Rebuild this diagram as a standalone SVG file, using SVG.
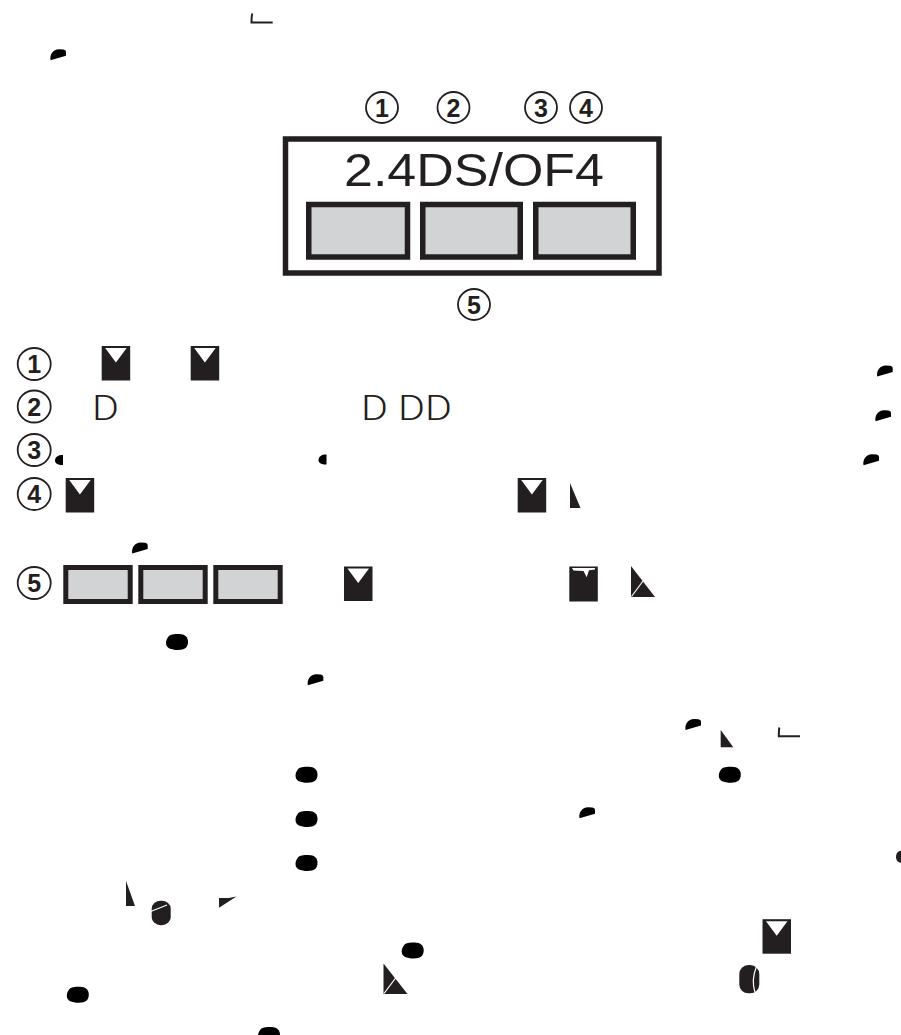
<svg xmlns="http://www.w3.org/2000/svg" width="901" height="1035" viewBox="0 0 901 1035">
<style>
.ink{fill:#231f20}
.circ{fill:none;stroke:#231f20;stroke-width:1.8}
.num{font-family:"Liberation Sans",Arial,sans-serif;font-weight:bold;font-size:25px;fill:#231f20;text-anchor:middle}
.key{fill:#d1d3d4;stroke:#231f20;stroke-width:5.5}
.keys{fill:#d1d3d4;stroke:#231f20;stroke-width:5}
.lbl{font-family:"Liberation Sans",Arial,sans-serif;font-size:46px;fill:#231f20}
.dd{font-family:Roboto,"Liberation Sans",sans-serif;font-weight:300;font-size:35px;fill:#231f20}
.slash{stroke:#fff;stroke-width:1.2;fill:none}
.hook{fill:none;stroke:#231f20;stroke-width:2}
</style>
<defs>
<path id="half" d="M0.5,11 C-0.5,5 3,0.5 9,0 L13.5,0.2 C15.3,0.6 16,1.5 16,3 L16,6.5 Z"/>
<path id="blob" d="M2.5,2.5 C4,0.5 8,0 13,0 C19,0 22,3 22,8 C22,13 19,16 12,16 C5,16 0,14 0,9 C0,6 1,4.5 2.5,2.5 Z"/>
<path id="dot" d="M8,0 C3,0 0,2 0,5.5 C0,8 2,10 8,10 Z"/>
<g id="mk"><rect x="0" y="0" width="28.5" height="34.5" fill="#231f20"/><polygon points="3.5,2 25,2 14.2,16.5" fill="#fff"/></g>
</defs>

<g id="connectors"></g>

<g id="panel">
<rect x="285.5" y="139" width="373.5" height="134" fill="#fff" stroke="#231f20" stroke-width="5.5"/>
<text class="lbl" x="344" y="186" textLength="260" lengthAdjust="spacingAndGlyphs">2.4DS/OF4</text>
<rect class="key" x="308.75" y="204.5" width="98.75" height="52.5"/>
<rect class="key" x="422.75" y="204.5" width="97.5" height="52.5"/>
<rect class="key" x="535.75" y="204.5" width="97.5" height="52.5"/>
</g>

<g id="callouts">
<g id="c1"><ellipse class="circ" cx="382" cy="107.5" rx="16" ry="15.5"/><text class="num" x="382" y="116.5">1</text></g>
<g id="c2"><ellipse class="circ" cx="453.5" cy="107.5" rx="16" ry="15.5"/><text class="num" x="453.5" y="116.5">2</text></g>
<g id="c3"><ellipse class="circ" cx="541" cy="107.5" rx="16" ry="15.5"/><text class="num" x="541" y="116.5">3</text></g>
<g id="c4"><ellipse class="circ" cx="586" cy="107.5" rx="16" ry="15.5"/><text class="num" x="586" y="116.5">4</text></g>
<g id="c5"><ellipse class="circ" cx="474" cy="304.5" rx="16" ry="15.5"/><text class="num" x="474" y="313.5">5</text></g>
</g>

<g id="legend">
<g id="row1"><ellipse class="circ" cx="34.2" cy="364" rx="16.5" ry="16"/><text class="num" x="34.2" y="373">1</text>
<use href="#mk" x="101.7" y="346"/><use href="#mk" x="190.7" y="346"/></g>
<g id="row2"><ellipse class="circ" cx="34.2" cy="406.5" rx="16.5" ry="16"/><text class="num" x="34.2" y="415.5">2</text>
<text class="dd" x="92" y="420" textLength="27" lengthAdjust="spacingAndGlyphs">D</text><text class="dd" x="361" y="420" textLength="91" lengthAdjust="spacingAndGlyphs">D DD</text></g>
<g id="row3"><ellipse class="circ" cx="34.2" cy="450" rx="16.5" ry="16"/><text class="num" x="34.2" y="459">3</text>
<use href="#dot" x="55" y="455"/><use href="#dot" x="318.5" y="454.5"/></g>
<g id="row4"><ellipse class="circ" cx="34.2" cy="494" rx="16.5" ry="16"/><text class="num" x="34.2" y="503">4</text>
<use href="#mk" x="65.7" y="478"/><use href="#mk" x="517.7" y="478"/>
<polygon class="ink" points="570,483 580.5,508 570,508"/></g>
<g id="row5"><ellipse class="circ" cx="34.2" cy="583" rx="16.5" ry="16"/><text class="num" x="34.2" y="592">5</text>
<rect class="keys" x="65.8" y="567.5" width="64.4" height="34"/>
<rect class="keys" x="140.8" y="567.5" width="64.4" height="34"/>
<rect class="keys" x="215.8" y="567.5" width="64.4" height="34"/>
<use href="#mk" x="344" y="566.5"/>
<rect x="569.3" y="566.5" width="28.5" height="35" fill="#231f20"/>
<polygon points="572,568 595,568 595,569.6 589,570.3 586.7,577.3 583.5,571 573.5,570.5" fill="#fff"/>
<polygon class="ink" points="631,566 655,597 631,597"/>
<line class="slash" x1="631.5" y1="596.5" x2="644.5" y2="579"/></g>
</g>

<g id="fragments">
<path class="hook" d="M252.5,13.5 C251.5,15 251.5,17 251.5,22.5 L272.7,22.5"/>
<use href="#half" x="50" y="49.3"/>
<use href="#half" x="876.7" y="365.5"/>
<use href="#half" x="875" y="410.3"/>
<use href="#half" x="863" y="454.3"/>
<use href="#half" x="131.7" y="542.5"/>
<use href="#blob" x="166" y="634"/>
<use href="#half" x="307.3" y="674.3"/>
<use href="#half" x="685" y="719"/>
<polygon class="ink" points="720.7,730 733.3,747.3 720.7,747.3"/>
<path class="hook" d="M779.5,727.5 C778.8,729 778.8,731 778.8,736.3 L800,736.3"/>
<use href="#blob" x="295.5" y="766.7"/>
<use href="#blob" x="718.8" y="766.7"/>
<use href="#half" x="579" y="807.2"/>
<use href="#blob" x="295.5" y="811"/>
<use href="#blob" x="295.5" y="855"/>
<path class="ink" d="M901,850.7 C898,851 896,853 896,856.5 C896,860.5 898,862.7 901,862.7 Z"/>
<polygon class="ink" points="126,881 135,906 126,906"/>
<rect class="ink" x="151.7" y="900.7" width="19" height="24.5" rx="9" ry="8"/>
<line class="slash" x1="150" y1="911.8" x2="167" y2="905"/>
<polygon class="ink" points="219,898 228.5,898 236.5,896.5 219,907.7"/>
<use href="#mk" x="762.5" y="919.2"/>
<use href="#blob" x="401.7" y="942.6"/>
<polygon class="ink" points="383.5,963.5 407.5,994 383.5,994"/>
<line class="slash" x1="384" y1="993.5" x2="396" y2="977.5"/>
<rect class="ink" x="739.3" y="965" width="20" height="28.3" rx="9" ry="9"/>
<path class="slash" d="M756.5,966.5 C753,975 752,983 755,992.5"/>
<use href="#blob" x="66.8" y="986.7"/>
<use href="#blob" x="258" y="1027"/>
</g>
</svg>
